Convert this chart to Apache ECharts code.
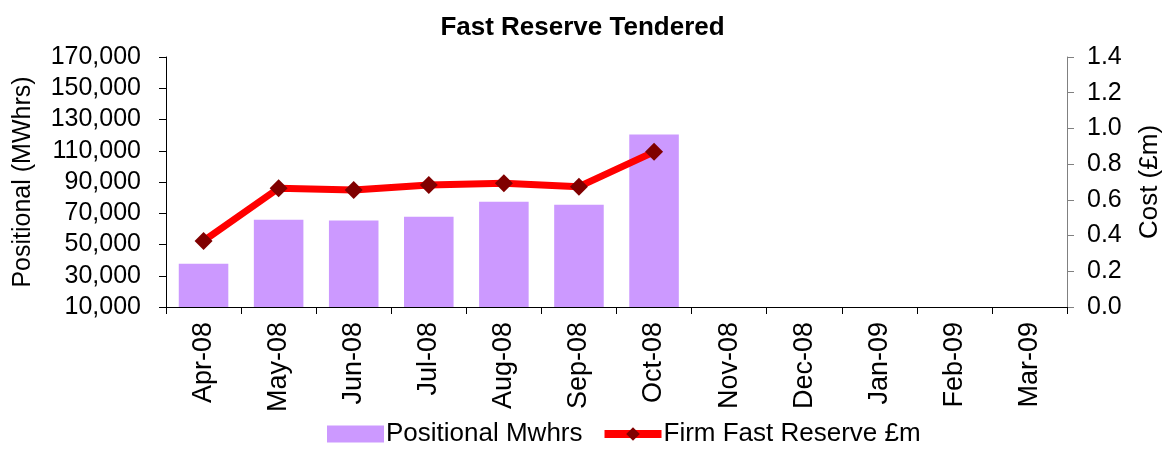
<!DOCTYPE html>
<html><head><meta charset="utf-8">
<script src="https://cdn.jsdelivr.net/npm/echarts@6/dist/echarts.min.js"></script>
<style>html,body{margin:0;padding:0;background:#fff;overflow:hidden}#c{width:1165px;height:451px}</style>
</head><body><div id="c"></div>
<script>
const categories = ['Apr-08','May-08','Jun-08','Jul-08','Aug-08','Sep-08','Oct-08','Nov-08','Dec-08','Jan-09','Feb-09','Mar-09'];
const positionalMwhrs = [37700, 65900, 65300, 67800, 77400, 75500, 120400, null, null, null, null, null];
const firmFastReserve = [0.37, 0.665, 0.655, 0.683, 0.693, 0.674, 0.869, null, null, null, null, null];

const F = 'Liberation Sans, Arial, sans-serif';
const chart = echarts.init(document.getElementById('c'));
chart.setOption({
  animation: false,
  backgroundColor: '#fff',
  title: { text: 'Fast Reserve Tendered', left: 'center', top: 10,
    textStyle: { fontFamily: F, fontSize: 26, fontWeight: 'bold', color: '#000' } },
  grid: { left: 166, right: 98, top: 57, bottom: 144, containLabel: false, outerBoundsMode: 'none' },
  legend: { bottom: -1, left: 322, itemGap: 18, itemWidth: 57, itemHeight: 17,
    textStyle: { fontFamily: F, fontSize: 26, color: '#000', padding: [0,0,0,-3] },
    data: [
      { name: 'Positional Mwhrs', icon: 'rect' },
      { name: 'Firm Fast Reserve £m', lineStyle: { width: 8, color: '#FF0000' } }
    ] },
  xAxis: { type: 'category', data: categories, boundaryGap: true,
    axisLine: { lineStyle: { color: '#000', width: 1 } },
    axisTick: { show: true, length: 7, lineStyle: { color: '#000' } },
    axisLabel: { rotate: 90, fontFamily: F, fontSize: 27, color: '#000', margin: 15, interval: 0 } },
  yAxis: [
    { type: 'value', min: 10000, max: 170000, interval: 20000, position: 'left',
      name: 'Positional (MWhrs)', nameLocation: 'middle', nameGap: 130, nameRotate: 90,
      nameTextStyle: { fontFamily: F, fontSize: 25, color: '#000' },
      axisLine: { show: true, lineStyle: { color: '#000' } },
      axisTick: { show: true, length: 7, lineStyle: { color: '#000' } },
      splitLine: { show: false },
      axisLabel: { fontFamily: F, fontSize: 25, color: '#000', margin: 25,
        formatter: v => v.toLocaleString('en-US') } },
    { type: 'value', min: 0, max: 1.4, interval: 0.2, position: 'right',
      name: 'Cost (£m)', nameLocation: 'middle', nameGap: 70, nameRotate: 90,
      nameTextStyle: { fontFamily: F, fontSize: 26, color: '#000' },
      axisLine: { show: true, lineStyle: { color: '#808080' } },
      axisTick: { show: true, length: 7, lineStyle: { color: '#808080' } },
      splitLine: { show: false },
      axisLabel: { fontFamily: F, fontSize: 25, color: '#000', margin: 20,
        formatter: v => v.toFixed(1) } }
  ],
  series: [
    { name: 'Positional Mwhrs', type: 'bar', yAxisIndex: 0, data: positionalMwhrs,
      barWidth: '66%', itemStyle: { color: '#CC99FF' } },
    { name: 'Firm Fast Reserve £m', type: 'line', yAxisIndex: 1, data: firmFastReserve,
      symbol: 'diamond', symbolSize: 18, connectNulls: false,
      lineStyle: { color: '#FF0000', width: 7 },
      itemStyle: { color: '#800000', borderWidth: 0 } }
  ]
});
</script></body></html>
